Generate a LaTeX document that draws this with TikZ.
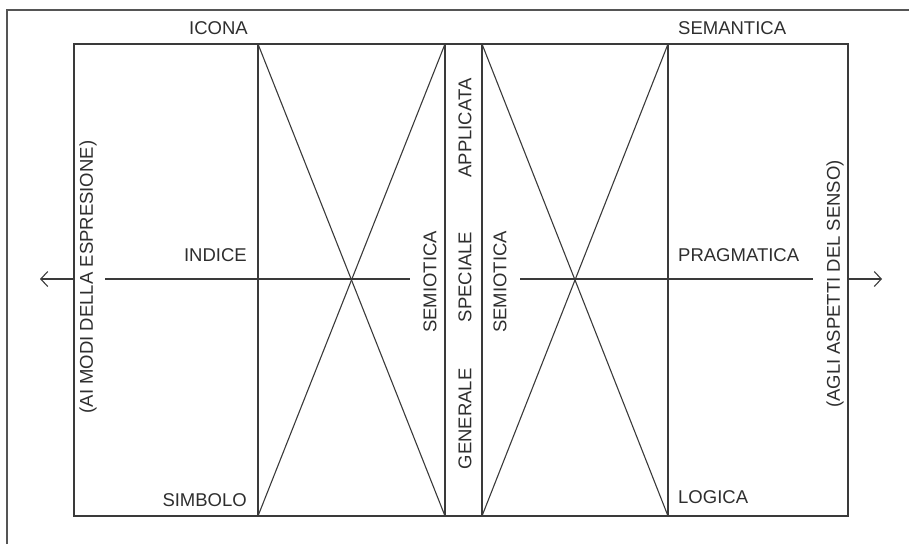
\documentclass[tikz,border=0pt]{standalone}
\usepackage{fontspec}
\setmainfont{Liberation Sans}
\usetikzlibrary{arrows.meta}
\definecolor{ink}{HTML}{3A3A3A}
\definecolor{txt}{HTML}{2E2E2E}
\definecolor{frame}{HTML}{555555}
\tikzset{
  lbl/.style={inner sep=0pt, text=txt, font=\fontsize{18.5}{22}\selectfont},
  vlbl/.style={lbl, rotate=90, anchor=center},
  ln/.style={draw=ink, line width=1.1pt},
  arr/.style={ln, -{Straight Barb[length=7pt,width=15pt,line width=1.1pt]}},
}
\begin{document}
\begin{tikzpicture}[x=1pt,y=-1pt]
\useasboundingbox (0,0) rectangle (909,544);
% page frame (top and left edges)
\coordinate (F1) at (7,544);
\coordinate (F2) at (7,10);
\coordinate (F3) at (909,10);
\draw[draw=frame, line width=1.8pt] (F1) -- (F2) -- (F3);
% grid coordinates
\foreach \n/\x in {a/74,b/258,c/445,d/482,e/668,f/848}{
  \coordinate (\n t) at (\x,44);
  \coordinate (\n b) at (\x,516);
}
\draw[ln] (at) rectangle (fb);
\foreach \n in {b,c,d,e}{ \draw[ln] (\n t) -- (\n b); }
% crosses
\draw[ln] (bt) -- (cb);
\draw[ln] (ct) -- (bb);
\draw[ln] (dt) -- (eb);
\draw[ln] (et) -- (db);
% horizontal axis
\coordinate (L0) at (74,279);
\coordinate (LA) at (40,279);
\coordinate (L1) at (105,279);
\coordinate (L2) at (410,279);
\coordinate (R1) at (520,279);
\coordinate (R2) at (813,279);
\coordinate (R0) at (848,279);
\coordinate (RA) at (882,279);
\draw[arr] (L0) -- (LA);
\draw[ln] (L1) -- (L2);
\draw[ln] (R1) -- (R2);
\draw[arr] (R0) -- (RA);
% horizontal labels
\node[lbl, anchor=east] (icona) at (248,28.5) {ICONA};
\node[lbl, anchor=east] (indice) at (247,255.5) {INDICE};
\node[lbl, anchor=east] (simbolo) at (247,500) {SIMBOLO};
\node[lbl, anchor=west] (semantica) at (678,28.5) {SEMANTICA};
\node[lbl, anchor=west] (pragmatica) at (678,255) {PRAGMATICA};
\node[lbl, anchor=west] (logica) at (678,497) {LOGICA};
% vertical labels
\node[vlbl] (espr) at (88,277) {(AI MODI DELLA ESPRESIONE)};
\node[vlbl] (senso) at (835,284) {(AGLI ASPETTI DEL SENSO)};
\node[vlbl] (semL) at (430,282) {SEMIOTICA};
\node[vlbl] (semR) at (500,282) {SEMIOTICA};
\node[vlbl] (appl) at (465,128) {APPLICATA};
\node[vlbl] (spec) at (465,277) {SPECIALE};
\node[vlbl] (gen) at (465,419) {GENERALE};
\end{tikzpicture}
\end{document}
